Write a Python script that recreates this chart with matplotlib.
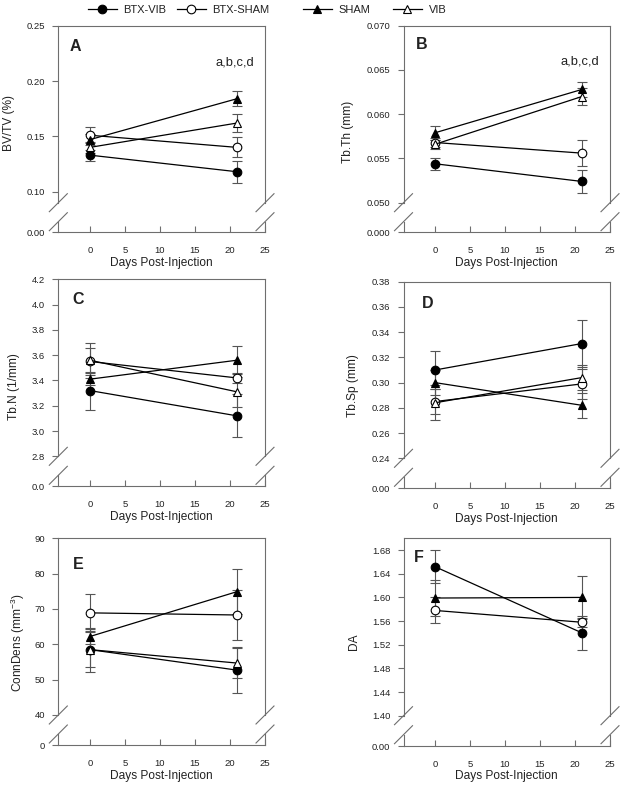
import matplotlib
matplotlib.use("Agg")
import matplotlib.pyplot as plt
from matplotlib.lines import Line2D

plt.rcParams["font.family"] = ["Liberation Sans", "DejaVu Sans"]
plt.rcParams["mathtext.default"] = "regular"

# groups in legend order
groups = ["BTX-VIB", "BTX-SHAM", "SHAM", "VIB"]
days = [0, 21]

# one row per group: [day 0, day 21]
bvtv = [[0.133, 0.118], [0.151, 0.140], [0.147, 0.184], [0.140, 0.162]]
bvtv_err = [[0.005, 0.010], [0.007, 0.009], [0.005, 0.007], [0.005, 0.008]]

tbth = [[0.0544, 0.0524], [0.0568, 0.0556], [0.0579, 0.0628], [0.0566, 0.0620]]
tbth_err = [[0.0007, 0.0013], [0.0005, 0.0015], [0.0008, 0.0008], [0.0005, 0.0010]]

tbn = [[3.32, 3.12], [3.55, 3.42], [3.41, 3.56], [3.56, 3.31]]
tbn_err = [[0.15, 0.17], [0.11, 0.04], [0.05, 0.11], [0.14, 0.12]]

tbsp = [[0.310, 0.331], [0.285, 0.299], [0.300, 0.282], [0.284, 0.304]]
tbsp_err = [[0.015, 0.019], [0.010, 0.012], [0.010, 0.010], [0.014, 0.010]]

conn = [[58.5, 52.7], [68.9, 68.3], [62.2, 74.9], [58.5, 54.7]]
conn_err = [[5.0, 6.5], [5.2, 7.1], [2.2, 6.3], [6.2, 4.3]]

da = [[1.652, 1.540], [1.578, 1.558], [1.599, 1.600], None]
da_err = [[0.028, 0.029], [0.022, 0.008], [0.030, 0.037], None]

W, H = 624, 785
fig = plt.figure(figsize=(6.24, 7.85), dpi=100)

axis_col = "#6e6e6e"
err_col = "#555555"
txt_col = "#222222"

markers = ["o", "o", "^", "^"]
faces = ["black", "white", "black", "white"]


def box(left, top, right, bottom):
    return [left / W, 1 - bottom / H, (right - left) / W, (bottom - top) / H]


def slash(xp, yp):
    fig.add_artist(Line2D([(xp - 9) / W, (xp + 9) / W], [1 - (yp + 9) / H, 1 - (yp - 9) / H],
                          color=axis_col, lw=0.8))


def panel(left, right, top, mid, bottom, vals, errs, ylim, yticks, fmt, zero_lab,
          ylabel, ylab_xy, letter, letter_off, note=None, note_xy=None):
    gap = 19
    ax = fig.add_axes(box(left, top, right, mid))
    axb = fig.add_axes(box(left, mid + gap, right, bottom), sharex=ax)
    for a in (ax, axb):
        for s in a.spines.values():
            s.set_color(axis_col)
            s.set_linewidth(0.8)
        a.tick_params(axis="y", direction="out", length=4.5, width=0.8, color=axis_col,
                      pad=5, labelsize=6.8, labelcolor=txt_col)
    ax.spines["bottom"].set_visible(False)
    axb.spines["top"].set_visible(False)
    ax.tick_params(axis="x", bottom=False, labelbottom=False)
    axb.tick_params(axis="x", direction="in", length=4, width=0.8, color=axis_col,
                    pad=10, labelsize=6.8, labelcolor=txt_col)

    ax.set_xlim(-4.5, 25)
    axb.set_xticks([0, 5, 10, 15, 20, 25])
    ax.set_ylim(*ylim)
    ax.set_yticks(yticks)
    ax.set_yticklabels([fmt.format(v) for v in yticks])
    axb.set_ylim(0, 1)
    axb.set_yticks([0])
    axb.set_yticklabels([zero_lab])
    axb.set_xlabel("Days Post-Injection", fontsize=8.6, labelpad=1, color=txt_col)

    for i, g in enumerate(groups):
        if vals[i] is None:
            continue
        ax.errorbar(days, vals[i], yerr=errs[i], fmt="none", ecolor=err_col,
                    elinewidth=0.8, capsize=3.5, capthick=0.8, zorder=2)
        ax.plot(days, vals[i], color="black", lw=0.9, marker=markers[i], ms=6.2,
                mfc=faces[i], mec="black", mew=0.8, zorder=3 + i * 0.1)

    # break marks
    for xp in (left, right):
        slash(xp, mid)
        slash(xp, mid + gap)

    fig.text(ylab_xy[0] / W, 1 - ylab_xy[1] / H, ylabel, rotation=90, ha="center",
             va="center", fontsize=8.6, color=txt_col)
    fig.text((left + letter_off[0]) / W, 1 - (top + letter_off[1]) / H, letter,
             fontsize=11.5, fontweight="bold", ha="left", va="top", color=txt_col)
    if note:
        fig.text(note_xy[0] / W, 1 - note_xy[1] / H, note, fontsize=9.3, ha="center",
                 va="center", color=txt_col)


L1, R1 = 58.3, 265
L2, R2 = 403.5, 610

panel(L1, R1, 25.7, 202.7, 232.3, bvtv, bvtv_err, (0.09, 0.25),
      [0.10, 0.15, 0.20, 0.25], "{:.2f}", "0.00", "BV/TV (%)", (9.5, 123), "A", (11, 13),
      "a,b,c,d", (234.5, 62.5))
panel(L2, R2, 25.7, 202.7, 232.3, tbth, tbth_err, (0.050, 0.070),
      [0.050, 0.055, 0.060, 0.065, 0.070], "{:.3f}", "0.000", "Tb.Th (mm)", (348, 131.5),
      "B", (12, 11), "a,b,c,d", (580, 61))
panel(L1, R1, 279.3, 456.3, 486.3, tbn, tbn_err, (2.8, 4.2),
      [2.8, 3.0, 3.2, 3.4, 3.6, 3.8, 4.0, 4.2], "{:.1f}", "0.0", "Tb.N (1/mm)", (14, 387),
      "C", (14, 13))
panel(L2, R2, 281.7, 458.3, 488.3, tbsp, tbsp_err, (0.24, 0.38),
      [0.24, 0.26, 0.28, 0.30, 0.32, 0.34, 0.36, 0.38], "{:.2f}", "0.00", "Tb.Sp (mm)",
      (353, 386), "D", (18, 14))
panel(L1, R1, 538.3, 715, 745.3, conn, conn_err, (40, 90),
      [40, 50, 60, 70, 80, 90], "{:.0f}", "0", "ConnDens (mm$^{-3}$)", (17.5, 643),
      "E", (15, 19))
panel(L2, R2, 538.3, 715.7, 746, da, da_err, (1.40, 1.70),
      [1.40, 1.44, 1.48, 1.52, 1.56, 1.60, 1.64, 1.68], "{:.2f}", "0.00", "DA",
      (353.5, 642), "F", (10, 12))

# legend: one entry per group, placed where the reference puts it
legend_x = [88, 177, 303, 393]
for i, g in enumerate(groups):
    h = Line2D([0], [0], color="black", lw=0.9, marker=markers[i], ms=6.2,
               mfc=faces[i], mec="black", mew=0.8)
    fig.legend([h], [g], loc="center left", bbox_to_anchor=(legend_x[i] / W, 1 - 10 / H),
               frameon=False, fontsize=8, handlelength=2.6, handletextpad=0.6,
               borderpad=0, borderaxespad=0, labelcolor=txt_col)

fig.savefig("out.png", dpi=100)
